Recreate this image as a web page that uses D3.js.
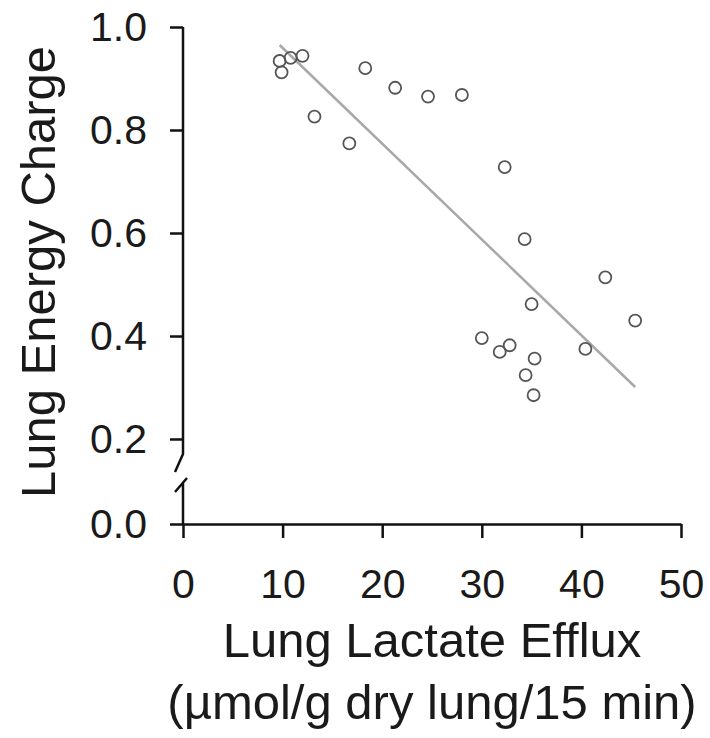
<!DOCTYPE html>
<html>
<head>
<meta charset="utf-8">
<script src="https://cdn.jsdelivr.net/npm/d3@7"></script>
<style>
  body { margin: 0; background: #fff; }
  text { font-family: "Liberation Sans", Arial, sans-serif; fill: #1a1a1a; }
</style>
</head>
<body>
<div id="chart"></div>
<script>
// lactate efflux (x) vs energy charge (y)
var efflux = [9.7, 9.9, 10.8, 12.0, 13.2, 16.7, 18.3, 21.3, 24.6, 28.0,
    32.3, 34.3, 35.0, 42.4, 45.4, 30.0, 32.8, 31.8, 35.3, 34.4, 35.2, 40.4];
var charge = [0.934, 0.912, 0.940, 0.944, 0.826, 0.774, 0.920, 0.882, 0.865, 0.868,
    0.728, 0.588, 0.462, 0.514, 0.430, 0.396, 0.382, 0.369, 0.356, 0.324, 0.285, 0.375];

// regression line end points
var fitX = [9.7, 45.4];
var fitY = [0.965, 0.301];

var xTicks = [0, 10, 20, 30, 40, 50];
var yTicks = [0.0, 0.2, 0.4, 0.6, 0.8, 1.0];

var width = 710, height = 738;

var svg = d3.select('#chart').append('svg')
    .attr('width', width)
    .attr('height', height);

var x = d3.scaleLinear().domain([0, 50]).range([183, 681]);
// broken axis: 0.0 squeezed in below 0.2
var y = d3.scaleLinear().domain([0, 0.2, 1.0]).range([524, 439, 27]);

// x axis
var gx = svg.append('g')
    .attr('transform', 'translate(0,' + y(0) + ')')
    .call(d3.axisBottom(x).tickValues(xTicks).tickSize(14).tickSizeOuter(0).tickPadding(31)
        .tickFormat(d3.format('d')));
gx.select('.domain').attr('stroke', '#111').attr('stroke-width', 2.5);
gx.selectAll('.tick line').attr('stroke', '#111').attr('stroke-width', 2.5);
gx.selectAll('.tick text').attr('font-size', 41).attr('fill', '#1a1a1a')
    .style('font-family', '"Liberation Sans", Arial, sans-serif');

// y axis (domain drawn by hand because of the break)
var gy = svg.append('g')
    .attr('transform', 'translate(' + x(0) + ',0)')
    .call(d3.axisLeft(y).tickValues(yTicks).tickSize(13).tickPadding(23)
        .tickFormat(d3.format('.1f')));
gy.select('.domain').remove();
gy.selectAll('.tick line').attr('stroke', '#111').attr('stroke-width', 2.5);
gy.selectAll('.tick text').attr('font-size', 41).attr('fill', '#1a1a1a')
    .style('font-family', '"Liberation Sans", Arial, sans-serif');

var x0 = x(0), yb = y(0.2);
svg.append('path')
    .attr('d', 'M' + x0 + ',' + y(1.0) + 'V' + (yb + 15) + 'L' + (x0 - 8) + ',' + (yb + 33))
    .attr('fill', 'none').attr('stroke', '#111').attr('stroke-width', 2.5);
svg.append('path')
    .attr('d', 'M' + (x0 - 8) + ',' + (yb + 53) + 'L' + (x0 + 4) + ',' + (yb + 39) + 'M' + x0 + ',' + (yb + 44) + 'V' + y(0))
    .attr('fill', 'none').attr('stroke', '#111').attr('stroke-width', 2.5);

// regression line
svg.append('line')
    .attr('x1', x(fitX[0])).attr('y1', y(fitY[0]))
    .attr('x2', x(fitX[1])).attr('y2', y(fitY[1]))
    .attr('stroke', '#a8a8a8')
    .attr('stroke-width', 2.5);

// points
svg.append('g').selectAll('circle')
    .data(d3.range(efflux.length))
    .join('circle')
    .attr('cx', function (i) { return x(efflux[i]); })
    .attr('cy', function (i) { return y(charge[i]); })
    .attr('r', 6)
    .attr('fill', 'none')
    .attr('stroke', '#555')
    .attr('stroke-width', 1.8);

// axis titles
svg.append('text')
    .attr('transform', 'translate(55,272) rotate(-90)')
    .attr('text-anchor', 'middle')
    .attr('font-size', 49)
    .text('Lung Energy Charge');

svg.append('text')
    .attr('x', 432).attr('y', 657)
    .attr('text-anchor', 'middle')
    .attr('font-size', 49)
    .text('Lung Lactate Efflux');

svg.append('text')
    .attr('x', 432).attr('y', 719)
    .attr('text-anchor', 'middle')
    .attr('font-size', 49)
    .text('(\u00b5mol/g dry lung/15 min)');
</script>
</body>
</html>
